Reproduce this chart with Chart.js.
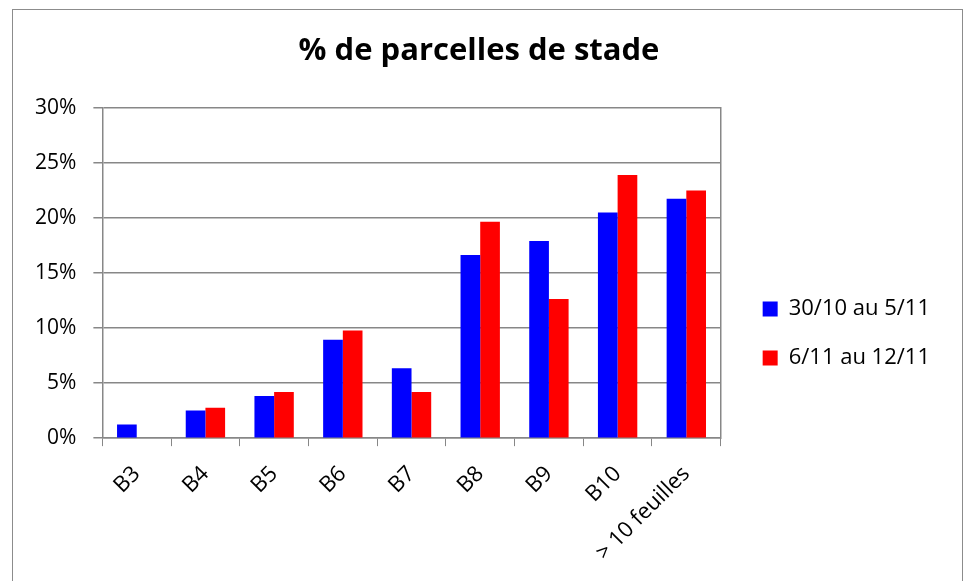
<!DOCTYPE html>
<html><head><meta charset="utf-8">
<script src="https://cdn.jsdelivr.net/npm/chart.js@4"></script>
<style>
html,body{margin:0;padding:0;background:#fff;overflow:hidden;}
#frame{position:absolute;left:12px;top:9px;width:951px;height:620px;border:1.5px solid #8c8c8c;box-sizing:border-box;}
#wrap{position:absolute;left:0;top:0;width:964px;height:581px;}
</style></head><body>
<div id="frame"></div>
<div id="wrap"><canvas id="c" width="964" height="581"></canvas></div>
<script>
const categories = ['B3','B4','B5','B6','B7','B8','B9','B10','> 10 feuilles'];
const series1Label = '30/10 au 5/11';
const series2Label = '6/11 au 12/11';
const series1 = [1.25, 2.52, 3.83, 8.94, 6.35, 16.66, 17.93, 20.52, 21.76];
const series2 = [0, 2.77, 4.19, 9.79, 4.19, 19.67, 12.64, 23.92, 22.52];
const yTickValues = [0, 5, 10, 15, 20, 25, 30];
const titleText = '% de parcelles de stade';

const FONT = "'Open Sans', 'Noto Sans', sans-serif";
const GRID = '#878787';

new Chart(document.getElementById('c'), {
  type: 'bar',
  data: {
    labels: categories,
    datasets: [
      { label: series1Label, data: series1, backgroundColor: '#0000ff', borderWidth: 0 },
      { label: series2Label, data: series2, backgroundColor: '#ff0000', borderWidth: 0 }
    ]
  },
  options: {
    responsive: false,
    animation: false,
    devicePixelRatio: 1,
    layout: { padding: { left: 18, top: 10, right: 24, bottom: 0 } },
    datasets: { bar: { barPercentage: 1.0, categoryPercentage: 0.573 } },
    plugins: {
      title: {
        display: true, text: titleText, color: '#000',
        font: { family: FONT, size: 31, weight: 'bold' },
        padding: { top: 23, bottom: 38 }
      },
      legend: {
        position: 'right',
        maxWidth: 320,
        title: { display: true, text: ' ', font: { size: 10 }, padding: { top: 64, bottom: 0 } },
        labels: {
          color: '#000', boxWidth: 15, boxHeight: 15, padding: 27,
          font: { family: FONT, size: 22 }
        }
      },
      tooltip: { enabled: false }
    },
    scales: {
      x: {
        grid: { drawOnChartArea: false, drawTicks: true, tickLength: 8, color: GRID, offset: true },
        border: { color: GRID, width: 1.5 },
        ticks: { color: '#000', minRotation: 45, maxRotation: 45, padding: 15, font: { family: FONT, size: 22 } }
      },
      y: {
        min: 0, max: 30,
        afterBuildTicks: (s) => { s.ticks = yTickValues.map(v => ({ value: v })); },
        grid: { color: GRID, lineWidth: 1.5, tickLength: 9 },
        border: { color: GRID, width: 1.5 },
        ticks: { color: '#000', padding: 17, font: { family: FONT, size: 21 }, callback: (v) => v + '%' }
      },
      y2: {
        position: 'right', min: 0, max: 30,
        grid: { drawOnChartArea: false, drawTicks: false },
        border: { color: GRID, width: 1.5 },
        ticks: { display: false },
        afterFit: (s) => { s.width = 15; }
      }
    }
  }
});
</script>
</body></html>
